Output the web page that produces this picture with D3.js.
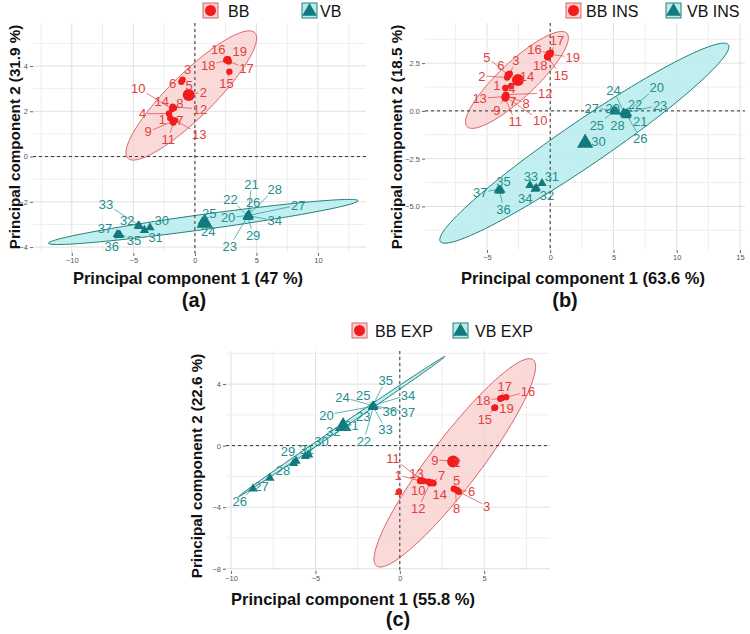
<!DOCTYPE html>
<html>
<head>
<meta charset="utf-8">
<script src="https://cdn.jsdelivr.net/npm/d3@7"></script>
<style>
  body { margin: 0; background: #fff; }
  svg { display: block; font-family: "Liberation Sans", Arial, sans-serif; }
</style>
</head>
<body>
<svg id="chart" width="750" height="634"></svg>
<script>
// ---- texts
const legendA = ["BB", "VB"];
const legendB = ["BB INS", "VB INS"];
const legendC = ["BB EXP", "VB EXP"];
const xTitles = ["Principal component 1 (47 %)", "Principal component 1 (63.6 %)", "Principal component 1 (55.8 %)"];
const yTitles = ["Principal component 2 (31.9 %)", "Principal component 2 (18.5 %)", "Principal component 2 (22.6 %)"];
const panelTags = ["(a)", "(b)", "(c)"];

// ---- ticks
const aXTicks = [-10, -5, 0, 5, 10], aYTicks = [-4, -2, 0, 2, 4];
const bXTicks = [-5, 0, 5, 10, 15], bYTicks = [-5, -2.5, 0, 2.5];
const cXTicks = [-10, -5, 0, 5],    cYTicks = [-8, -4, 0, 4];

// ---- individuals: [label, PC1, PC2, label PC1, label PC2]
const aBB = [
  [1, -2.0, 1.7, -2.65, 1.65], [2, -0.35, 2.75, 0.68, 2.85], [3, -1.0, 3.4, -0.59, 3.84],
  [4, -2.1, 1.9, -4.25, 1.89], [5, -0.6, 2.8, -0.46, 3.13], [6, -1.1, 3.3, -1.81, 3.25],
  [7, -1.75, 1.6, -1.22, 1.59], [8, -1.7, 2.15, -1.22, 2.33], [9, -1.8, 1.55, -3.79, 1.1],
  [10, -1.85, 2.1, -4.6, 3.03], [11, -1.75, 1.5, -2.16, 0.77], [12, -1.8, 2.2, 0.41, 2.1],
  [13, -1.6, 1.6, 0.35, 1.0], [14, -1.8, 2.15, -2.7, 2.43], [15, 2.8, 3.75, 2.57, 3.25],
  [16, 2.6, 4.3, 1.89, 4.72], [17, 2.75, 4.2, 4.2, 3.91], [18, 2.55, 4.25, 1.08, 4.03],
  [19, 2.7, 4.3, 3.65, 4.65]
];
const aVB = [
  [20, 4.3, -2.6, 2.7, -2.7], [21, 4.35, -2.55, 4.6, -1.21], [22, 4.25, -2.6, 2.9, -1.88],
  [23, 4.3, -2.62, 2.84, -3.95], [24, 0.6, -2.85, 1.08, -3.32], [25, 0.7, -2.8, 1.16, -2.5],
  [26, 4.4, -2.55, 4.73, -2.03], [27, 4.4, -2.6, 8.39, -2.14], [28, 4.35, -2.58, 6.49, -1.43],
  [29, 4.3, -2.65, 4.73, -3.46], [30, -3.65, -3.1, -2.7, -2.8], [31, -4.1, -3.22, -3.19, -3.57],
  [32, -4.5, -3.05, -5.49, -2.8], [33, -4.6, -3.02, -7.22, -2.09], [34, 4.4, -2.62, 6.49, -2.83],
  [35, -6.1, -3.42, -4.95, -3.69], [36, -6.2, -3.44, -6.76, -3.95], [37, -6.3, -3.4, -7.3, -3.17]
];
const bBB = [
  [1, -3.55, 1.2, -4.21, 1.36], [2, -3.4, 1.75, -5.4, 1.83], [3, -3.2, 1.95, -2.71, 2.63],
  [4, -3.1, 1.3, -3.03, 1.19], [5, -3.35, 1.9, -5.0, 2.81], [6, -3.3, 1.85, -3.9, 2.36],
  [7, -3.45, 0.75, -2.95, 0.49], [8, -3.5, 0.8, -1.9, 0.4], [9, -3.6, 0.7, -4.21, 0.05],
  [10, -3.5, 0.72, -0.79, -0.51], [11, -3.55, 0.65, -2.76, -0.56], [12, -3.5, 0.85, -0.39, 0.93],
  [13, -3.6, 0.75, -5.58, 0.66], [14, -2.5, 1.6, -1.84, 1.83], [15, -0.2, 2.8, 0.85, 1.88],
  [16, -0.1, 3.0, -1.24, 3.23], [17, 0.05, 3.05, 0.53, 3.68], [18, -0.25, 2.85, -0.79, 2.41],
  [19, 0.0, 2.95, 1.79, 2.81]
];
const bVB = [
  [20, 6.0, -0.1, 8.43, 1.24], [21, 6.0, -0.15, 7.11, -0.56], [22, 5.9, -0.1, 6.71, 0.37],
  [23, 6.1, -0.08, 8.69, 0.31], [24, 5.8, -0.05, 5.0, 1.1], [25, 5.1, 0.0, 3.69, -0.73],
  [26, 6.05, -0.2, 7.11, -1.43], [27, 5.0, 0.05, 3.29, 0.14], [28, 5.9, -0.15, 5.32, -0.73],
  [29, 5.2, 0.03, 4.95, 0.14], [30, 2.7, -1.62, 3.82, -1.61], [31, -0.65, -3.75, 0.13, -3.44],
  [32, -1.1, -4.0, -0.26, -4.4], [33, -1.6, -3.85, -1.53, -3.44], [34, -1.2, -4.05, -1.97, -4.57],
  [35, -3.9, -4.1, -3.69, -3.7], [36, -4.0, -4.15, -3.69, -5.15], [37, -4.1, -4.1, -5.53, -4.28]
];
const cBB = [
  [1, 1.2, -2.3, -0.1, -1.91], [2, 3.2, -1.05, 3.4, -1.1], [3, 3.5, -3.0, 5.14, -3.92],
  [4, -0.05, -3.0, -0.1, -3.06], [5, 3.2, -2.8, 3.36, -2.23], [6, 3.4, -2.9, 4.25, -2.99],
  [7, 1.9, -2.4, 2.47, -1.91], [8, 3.3, -2.85, 3.36, -4.07], [9, 3.1, -1.0, 2.07, -0.93],
  [10, 1.7, -2.35, 1.09, -2.88], [11, 1.3, -2.25, -0.4, -0.82], [12, 1.8, -2.45, 1.09, -4.07],
  [13, 1.4, -2.3, 0.99, -1.8], [14, 2.0, -2.45, 2.37, -3.14], [15, 5.6, 2.45, 5.04, 1.72],
  [16, 6.3, 3.15, 7.6, 3.51], [17, 6.05, 3.1, 6.22, 3.88], [18, 5.95, 3.05, 4.94, 2.97],
  [19, 5.65, 2.48, 6.32, 2.43]
];
const cVB = [
  [20, -1.6, 2.55, -4.35, 2.0], [21, -3.3, 1.35, -2.86, 1.35], [22, -1.55, 2.6, -2.13, 0.31],
  [23, -1.6, 2.6, -2.17, 1.89], [24, -1.6, 2.6, -3.4, 3.15], [25, -1.55, 2.55, -2.17, 3.3],
  [26, -8.7, -2.75, -9.48, -3.64], [27, -7.7, -2.05, -8.2, -2.67], [28, -6.3, -1.1, -6.92, -1.58],
  [29, -6.15, -0.95, -6.62, -0.39], [30, -5.6, -0.65, -4.64, 0.26], [31, -5.4, -0.55, -5.53, -0.23],
  [32, -3.4, 1.3, -3.95, 0.91], [33, -1.6, 2.58, -0.85, 1.09], [34, -1.55, 2.62, 0.49, 3.3],
  [35, -1.6, 2.62, -0.83, 4.27], [36, -1.58, 2.57, -0.59, 2.21], [37, -1.57, 2.6, 0.49, 2.17]
];

// ---- group means [PC1, PC2]
const aBBMean = [-0.5, 2.72],  aVBMean = [0.8, -2.87];
const bBBMean = [-2.55, 1.62], bVBMean = [2.76, -1.6];
const cBBMean = [3.16, -1.04], cVBMean = [-3.36, 1.35];

// ---- confidence ellipses: [centre PC1, centre PC2, half major PC1, PC2, half minor PC1, PC2]
const aBBEllipse = [-0.29, 2.7, 5.16, 2.77, 1.25, -0.69];
const aVBEllipse = [0.68, -2.89, 12.58, 0.94, 0.083, -0.33];
const bBBEllipse = [-2.63, 1.62, 3.95, 2.44, 0.97, -0.69];
const bVBEllipse = [2.7, -1.69, 11.39, 5.15, 0.98, -0.95];
const cBBEllipse = [3.26, -1.12, 4.64, 6.7, 1.18, -0.98];
const cVBEllipse = [-3.45, 1.23, 6.12, 4.56, 0.066, -0.107];

// ---- colours
const RED = "#f21c1c", RED_TXT = "#e2403e", RED_FILL = "#f9cfcf", RED_LINE = "#d9646a";
const TEAL = "#107a7c", TEAL_TXT = "#23908f", TEAL_FILL = "#b6ecec", TEAL_LINE = "#23807f";

const svg = d3.select("#chart");

const panels = [
  { xDom: [-13.15, 13.9], xRange: [33, 366], yDom: [-4.26, 5.9], yRange: [253, 23],
    xTicks: aXTicks, yTicks: aYTicks, yFmt: d3.format("d"),
    bb: aBB, vb: aVB, bbMean: aBBMean, vbMean: aVBMean, bbEll: aBBEllipse, vbEll: aVBEllipse,
    legend: legendA, keyX: [203, 302], txtX: [228, 320], legY: 3,
    xTitle: xTitles[0], xTitlePos: [188, 284], yTitle: yTitles[0], yTitlePos: [20, 137],
    tag: panelTags[0], tagPos: [194, 307] },
  { xDom: [-9.9, 15.4], xRange: [425, 745], yDom: [-7.28, 4.6], yRange: [250, 23],
    xTicks: bXTicks, yTicks: bYTicks, yFmt: d3.format(".1f"),
    bb: bBB, vb: bVB, bbMean: bBBMean, vbMean: bVBMean, bbEll: bBBEllipse, vbEll: bVBEllipse,
    legend: legendB, keyX: [566, 666], txtX: [586, 687], legY: 3,
    xTitle: xTitles[1], xTitlePos: [583, 284], yTitle: yTitles[1], yTitlePos: [402, 137],
    tag: panelTags[1], tagPos: [565, 307] },
  { xDom: [-10.3, 8.9], xRange: [226, 550], yDom: [-8.15, 6.15], yRange: [571, 351],
    xTicks: cXTicks, yTicks: cYTicks, yFmt: d3.format("d"),
    bb: cBB, vb: cVB, bbMean: cBBMean, vbMean: cVBMean, bbEll: cBBEllipse, vbEll: cVBEllipse,
    legend: legendC, keyX: [352, 453], txtX: [375, 475], legY: 323,
    xTitle: xTitles[2], xTitlePos: [353, 605], yTitle: yTitles[2], yTitlePos: [202, 466],
    tag: panelTags[2], tagPos: [398, 626] }
];

// minor grid = halfway between major ticks (one step beyond each end too)
function minorOf(ticks, dom) {
  const step = ticks[1] - ticks[0];
  const out = [];
  for (let v = ticks[0] - step / 2; v <= ticks[ticks.length - 1] + step; v += step) {
    if (v > dom[0] && v < dom[1]) out.push(v);
  }
  return out;
}

const triangle = size => d3.symbol().type(d3.symbolTriangle).size(size)();

function drawPanel(p) {
  const x = d3.scaleLinear().domain(p.xDom).range(p.xRange);
  const y = d3.scaleLinear().domain(p.yDom).range(p.yRange);
  const g = svg.append("g");
  const [x0, x1] = p.xRange, [y1, y0] = p.yRange;

  // grid
  const grid = g.append("g");
  const allX = [...minorOf(p.xTicks, p.xDom).map(v => [v, 1]), ...p.xTicks.map(v => [v, 0])];
  const allY = [...minorOf(p.yTicks, p.yDom).map(v => [v, 1]), ...p.yTicks.map(v => [v, 0])];
  grid.selectAll(".gx").data(allX).join("line")
    .attr("x1", d => x(d[0])).attr("x2", d => x(d[0]))
    .attr("y1", y0).attr("y2", y1)
    .attr("stroke", d => d[1] ? "#eeeeee" : "#e0e0e0").attr("stroke-width", 1);
  grid.selectAll(".gy").data(allY).join("line")
    .attr("y1", d => y(d[0])).attr("y2", d => y(d[0]))
    .attr("x1", x0).attr("x2", x1)
    .attr("stroke", d => d[1] ? "#eeeeee" : "#e0e0e0").attr("stroke-width", 1);

  // axes (ticks + labels)
  const xAxis = g.append("g").attr("transform", `translate(0,${y1})`)
    .call(d3.axisBottom(x).tickValues(p.xTicks).tickSize(3).tickPadding(2));
  const yAxis = g.append("g").attr("transform", `translate(${x0},0)`)
    .call(d3.axisLeft(y).tickValues(p.yTicks).tickSize(3).tickPadding(2).tickFormat(p.yFmt));
  [xAxis, yAxis].forEach(ax => {
    ax.select(".domain").remove();
    ax.selectAll(".tick line").attr("stroke", "#666");
    ax.selectAll("text").attr("fill", "#555").attr("font-size", "7.5px")
      .attr("font-family", "'Liberation Sans', Arial, sans-serif");
  });

  // ellipses
  const ellPath = e => {
    const pts = d3.range(0, 121).map(i => {
      const t = i / 120 * 2 * Math.PI;
      return [x(e[0] + e[2] * Math.cos(t) + e[4] * Math.sin(t)),
              y(e[1] + e[3] * Math.cos(t) + e[5] * Math.sin(t))];
    });
    return d3.line()(pts) + "Z";
  };
  g.append("path").attr("d", ellPath(p.bbEll))
    .attr("fill", RED_FILL).attr("fill-opacity", 0.8).attr("stroke", RED_LINE).attr("stroke-width", 1);
  g.append("path").attr("d", ellPath(p.vbEll))
    .attr("fill", TEAL_FILL).attr("fill-opacity", 0.85).attr("stroke", TEAL_LINE).attr("stroke-width", 1);

  // zero lines
  g.append("line").attr("x1", x0).attr("x2", x1).attr("y1", y(0)).attr("y2", y(0))
    .attr("stroke", "#333").attr("stroke-width", 1).attr("stroke-dasharray", "3,3");
  g.append("line").attr("x1", x(0)).attr("x2", x(0)).attr("y1", y0).attr("y2", y1)
    .attr("stroke", "#333").attr("stroke-width", 1).attr("stroke-dasharray", "3,3");

  const segG = g.append("g");
  const ptG = g.append("g");
  const lblG = g.append("g");

  const groups = [
    { rows: p.bb, color: RED, txt: RED_TXT, mean: p.bbMean, tri: false },
    { rows: p.vb, color: TEAL, txt: TEAL_TXT, mean: p.vbMean, tri: true }
  ];
  groups.forEach(grp => {
    grp.rows.forEach(r => {
      const px = x(r[1]), py = y(r[2]);
      const lx = x(r[3]), ly = y(r[4]);
      const t = lblG.append("text").attr("x", lx).attr("y", ly)
        .attr("text-anchor", "middle").attr("dy", "0.36em")
        .attr("font-size", "13px").attr("fill", grp.txt).text(r[0]);
      const bb = t.node().getBBox();
      const pad = 1;
      const bx0 = bb.x - pad, bx1 = bb.x + bb.width + pad, by0 = bb.y + 2 - pad, by1 = bb.y + bb.height - 2 + pad;
      // clip segment from point to label centre at the label box
      const dx = lx - px, dy = ly - py;
      let tEnd = 1;
      [bx0, bx1].forEach(bxv => {
        if (dx !== 0) { const tt = (bxv - px) / dx; const yy = py + tt * dy; if (tt > 0 && tt < tEnd && yy >= by0 && yy <= by1) tEnd = tt; }
      });
      [by0, by1].forEach(byv => {
        if (dy !== 0) { const tt = (byv - py) / dy; const xx = px + tt * dx; if (tt > 0 && tt < tEnd && xx >= bx0 && xx <= bx1) tEnd = tt; }
      });
      const ex = px + dx * tEnd, ey = py + dy * tEnd;
      if (Math.hypot(ex - px, ey - py) > 5) {
        segG.append("line").attr("x1", px).attr("y1", py).attr("x2", ex).attr("y2", ey)
          .attr("stroke", grp.txt).attr("stroke-width", 0.7);
      }
      if (grp.tri) {
        ptG.append("path").attr("d", triangle(38)).attr("transform", `translate(${px},${py + 0.8})`).attr("fill", grp.color);
      } else {
        ptG.append("circle").attr("cx", px).attr("cy", py).attr("r", 3.2).attr("fill", grp.color);
      }
    });
    // group mean
    if (grp.tri) {
      ptG.append("path").attr("d", triangle(115)).attr("transform", `translate(${x(grp.mean[0])},${y(grp.mean[1]) + 1.5})`).attr("fill", grp.color);
    } else {
      ptG.append("circle").attr("cx", x(grp.mean[0])).attr("cy", y(grp.mean[1])).attr("r", 6).attr("fill", grp.color);
    }
  });

  // legend
  const keys = [
    { fill: RED_FILL, line: RED_LINE, color: RED, tri: false },
    { fill: TEAL_FILL, line: TEAL_LINE, color: TEAL, tri: true }
  ];
  keys.forEach((k, i) => {
    const kx = p.keyX[i], ky = p.legY;
    svg.append("rect").attr("x", kx).attr("y", ky).attr("width", 15).attr("height", 15)
      .attr("fill", k.fill).attr("stroke", k.line).attr("stroke-width", 1);
    if (k.tri) {
      svg.append("path").attr("d", triangle(95)).attr("transform", `translate(${kx + 7.5},${ky + 8.5})`).attr("fill", k.color);
    } else {
      svg.append("circle").attr("cx", kx + 7.5).attr("cy", ky + 7.5).attr("r", 5.5).attr("fill", k.color);
    }
    svg.append("text").attr("x", p.txtX[i]).attr("y", ky + 13.5)
      .attr("font-size", "16px").attr("fill", "#111").text(p.legend[i]);
  });

  // titles
  svg.append("text").attr("x", p.xTitlePos[0]).attr("y", p.xTitlePos[1])
    .attr("text-anchor", "middle").attr("font-size", "16.5px").attr("font-weight", "bold")
    .attr("fill", "#111").text(p.xTitle);
  svg.append("text").attr("transform", `translate(${p.yTitlePos[0]},${p.yTitlePos[1]}) rotate(-90)`)
    .attr("text-anchor", "middle").attr("font-size", "15.2px").attr("font-weight", "bold")
    .attr("fill", "#111").text(p.yTitle);
  svg.append("text").attr("x", p.tagPos[0]).attr("y", p.tagPos[1])
    .attr("text-anchor", "middle").attr("font-size", "20px").attr("font-weight", "bold")
    .attr("fill", "#111").text(p.tag);
}

panels.forEach(drawPanel);
</script>
</body>
</html>
